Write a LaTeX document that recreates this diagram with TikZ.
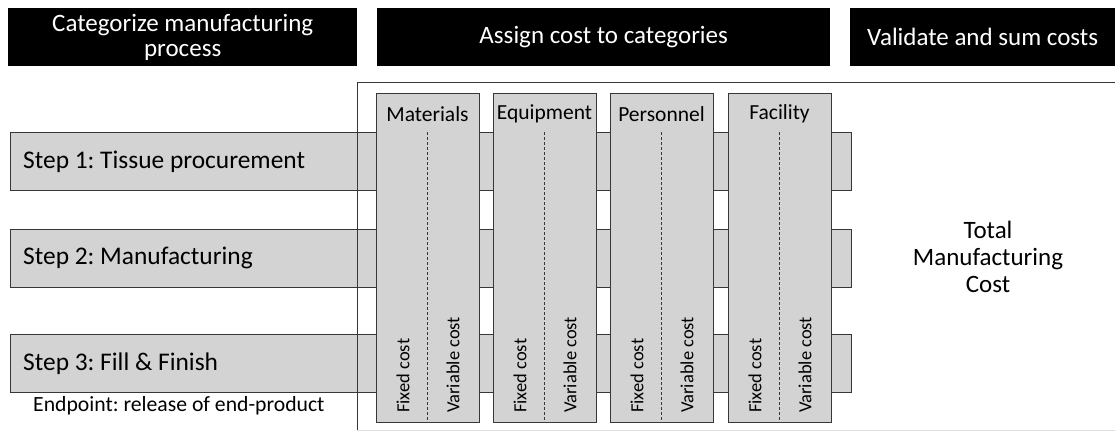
\documentclass[tikz,border=0pt]{standalone}
\usepackage{fontspec}
\setmainfont{Carlito}
\usepackage{tikz}
\usetikzlibrary{positioning}
\definecolor{barfill}{RGB}{211,211,211}
\definecolor{edge}{RGB}{55,55,55}
\tikzset{
  header/.style={fill=black, text=white, font=\fontsize{25}{25}\selectfont,
    align=center, anchor=north west, minimum height=58pt, inner sep=0pt},
  stepbar/.style={draw=edge, fill=barfill, line width=0.8pt, anchor=north west,
    minimum width=841pt, minimum height=58pt, inner sep=0pt},
  steptext/.style={font=\fontsize{25.4}{28}\selectfont, inner sep=0pt},
  costcol/.style={draw=edge, fill=barfill, line width=0.8pt, anchor=north west,
    minimum width=103pt, minimum height=329pt, inner sep=0pt},
  colname/.style={font=\fontsize{21.5}{24}\selectfont, inner sep=0pt},
  costtype/.style={font=\fontsize{18.5}{20}\selectfont, rotate=90, anchor=west,
    inner sep=0pt},
  divider/.style={draw=edge, line width=0.8pt, dash pattern=on 3pt off 2pt}
}

\begin{document}
\frenchspacing
\begin{tikzpicture}[x=1pt, y=-1pt]
\useasboundingbox (0,0) rectangle (1115,431);
% headers
\node[header, minimum width=349pt] (hcat) at (8,8) {Categorize manufacturing\\process};
\node[header, minimum width=453pt] (hassign) at (377,8) {Assign cost to categories};
\node[header, minimum width=265pt] (hvalid) at (850,8) {Validate and sum costs};
% process steps
\foreach \k/\y/\txt in {%
  1/132/{Step 1: Tissue procurement},
  2/229/{Step 2: Manufacturing},
  3/334/{Step 3: Fill \& Finish}%
} {
  \node[stepbar] (step\k) at (10,\y) {};
  \node[steptext, right=13pt of step\k.west] (step\k-txt) {\txt};
}
\node[anchor=west, font=\fontsize{21.7}{24}\selectfont, inner sep=0pt] (endpoint)
  at (33,406) {Endpoint: release of end-product};
% frame
\draw[edge, line width=0.8pt] (1115,82) -- (357,82) -- (357,430);
\draw[gray!25, line width=0.8pt] (357,430) -- (1115,430);
% cost categories
\foreach \name/\x/\lbl in {%
  mat/376/Materials,
  equ/493/Equipment,
  per/610/Personnel,
  fac/728/Facility%
} {
  \node[costcol] (\name) at (\x,93) {};
  \node[colname] (\name-lbl) at (\x+51.5,114) {\lbl};
  \coordinate (\name-top) at (\x+51.5,132);
  \draw[divider] (\name-top) -- (\name-top |- \name.south);
  \node[costtype] (\name-fix) at (\x+27,413) {Fixed cost};
  \node[costtype] (\name-var) at (\x+77,413) {Variable cost};
}
\node[align=center, font=\fontsize{25}{27}\selectfont] (total) at (988,257)
  {Total\\Manufacturing\\Cost};
\end{tikzpicture}
\end{document}
